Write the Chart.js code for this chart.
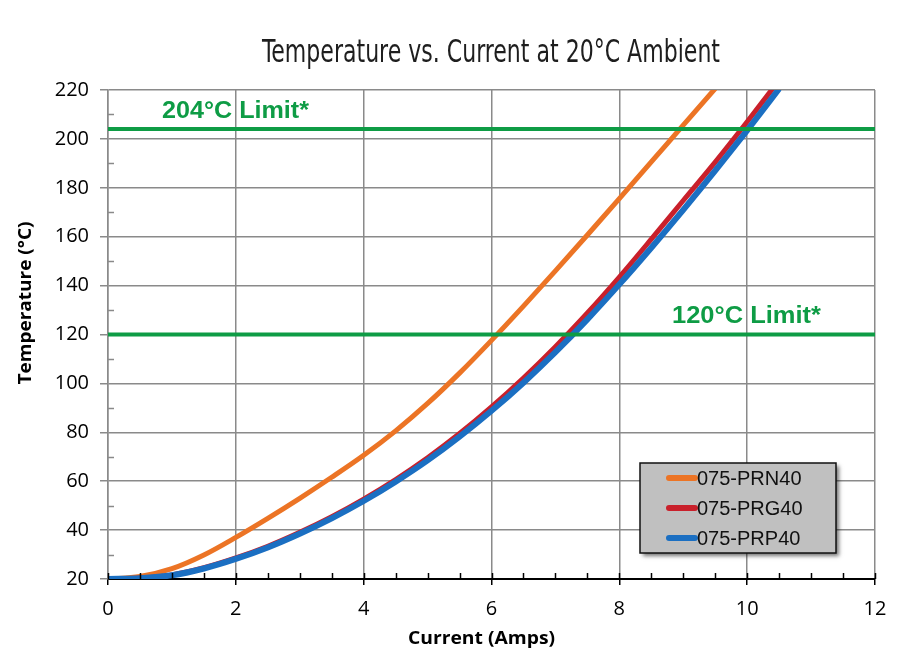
<!DOCTYPE html>
<html>
<head>
<meta charset="utf-8">
<script src="https://cdn.jsdelivr.net/npm/chart.js@4.4.1/dist/chart.umd.min.js"></script>
<style>
  html, body { margin: 0; padding: 0; background: #ffffff; }
  #wrap { width: 900px; height: 672px; }
</style>
</head>
<body>
<div id="wrap"><canvas id="c" width="900" height="672"></canvas></div>
<script>
// ---- data ----
const currentAmps = [0, 0.5, 1, 1.5, 2, 2.5, 3, 3.5, 4, 4.5, 5, 5.5, 6, 6.5, 7, 7.5, 8, 8.5, 9, 9.5, 10, 10.5];
const prn40 = [20, 21, 24.2, 29.8, 37, 44.8, 53, 61.6, 70.6, 80.6, 91.8, 104.2, 117.6, 131.6, 146, 160.7, 175.6, 190.6, 205.6, 220.6];
const prg40 = [20, 20.4, 21.7, 24.6, 28.6, 33.4, 39.1, 45.5, 52.7, 60.7, 69.6, 79.5, 90.4, 102.2, 115, 128.8, 143.5, 159, 174.8, 190.5, 207, 224];
const prp40 = [20, 20.3, 21.5, 24.3, 28.2, 32.9, 38.5, 44.8, 51.9, 59.8, 68.5, 78.2, 88.8, 100.3, 112.8, 126.2, 140.5, 155.5, 171, 187, 203.5, 220.5];
const seriesNames = ['075-PRN40', '075-PRG40', '075-PRP40'];
const limitValues = [204, 120];
const limitLabels = ['204°C Limit*', '120°C Limit*'];
const xTickValues = [0, 2, 4, 6, 8, 10, 12];
const yTickValues = [20, 40, 60, 80, 100, 120, 140, 160, 180, 200, 220];
const titleText = 'Temperature vs. Current at 20°C Ambient';
const xTitle = 'Current (Amps)';
const yTitle = 'Temperature (°C)';

const colors = ['#ec7425', '#c9202b', '#1b6fc2'];
const GREEN = '#0e9c45';

function pts(vals) { return vals.map((v, i) => ({ x: currentAmps[i], y: v })); }

const decor = {
  id: 'decor',
  afterDraw(chart) {
    const ctx = chart.ctx;
    const ca = chart.chartArea;
    const xs = chart.scales.x, ys = chart.scales.y;
    ctx.save();

    // minor ticks on y (inside, right of axis)
    ctx.strokeStyle = '#8a8a8a';
    ctx.lineWidth = 1.5;
    for (let v = 30; v < 220; v += 20) {
      const y = Math.round(ys.getPixelForValue(v)) + 0.5;
      ctx.beginPath(); ctx.moveTo(ca.left, y); ctx.lineTo(ca.left + 6, y); ctx.stroke();
    }
    // minor ticks on x (inside, above axis) + major upward extensions
    ctx.strokeStyle = '#000';
    ctx.lineWidth = 1.5;
    for (let v = 0; v <= 12; v += 0.5) {
      const x = Math.round(xs.getPixelForValue(v)) + 0.5;
      ctx.beginPath(); ctx.moveTo(x, ca.bottom); ctx.lineTo(x, ca.bottom - 6); ctx.stroke();
    }

    // limit lines
    ctx.strokeStyle = GREEN;
    ctx.lineWidth = 4;
    limitValues.forEach(v => {
      const y = ys.getPixelForValue(v);
      ctx.beginPath(); ctx.moveTo(ca.left, y); ctx.lineTo(ca.right, y); ctx.stroke();
    });
    // limit labels
    ctx.fillStyle = GREEN;
    ctx.font = 'bold 24px "Liberation Sans", Arial, sans-serif';
    ctx.textBaseline = 'alphabetic';
    const labelPos = [{ x: 162, w: 147 }, { x: 672, w: 149 }];
    limitLabels.forEach((t, i) => {
      const y = ys.getPixelForValue(limitValues[i]) - 11.5;
      const m = ctx.measureText(t).width;
      ctx.save();
      ctx.translate(labelPos[i].x, y);
      ctx.scale(labelPos[i].w / m, 1);
      ctx.fillText(t, 0, 0);
      ctx.restore();
    });

    // title
    ctx.fillStyle = '#1e1e1e';
    ctx.font = '32px "Liberation Sans Narrow", "DejaVu Sans Condensed", Arial, sans-serif';
    ctx.textAlign = 'left';
    let m = ctx.measureText(titleText).width;
    ctx.save();
    ctx.translate(262, 62);
    ctx.scale(458 / m, 1);
    ctx.fillText(titleText, 0, 0);
    ctx.restore();

    // axis titles
    ctx.fillStyle = '#000';
    ctx.font = 'bold 18px "Open Sans", sans-serif';
    ctx.textBaseline = 'middle';
    ctx.textAlign = 'center';
    m = ctx.measureText(xTitle).width;
    ctx.save();
    ctx.translate(481.5, 639);
    ctx.scale(147 / m, 1);
    ctx.fillText(xTitle, 0, 0);
    ctx.restore();
    m = ctx.measureText(yTitle).width;
    ctx.save();
    ctx.translate(26, 303);
    ctx.rotate(-Math.PI / 2);
    ctx.scale(163 / m, 1);
    ctx.fillText(yTitle, 0, 0);
    ctx.restore();

    // legend box
    const bx = 640, by = 463, bw = 196, bh = 90;
    ctx.save();
    ctx.shadowColor = 'rgba(0,0,0,0.55)';
    ctx.shadowBlur = 4;
    ctx.shadowOffsetX = 3;
    ctx.shadowOffsetY = 3;
    ctx.fillStyle = '#c0c0c0';
    ctx.fillRect(bx, by, bw, bh);
    ctx.restore();
    ctx.strokeStyle = '#111';
    ctx.lineWidth = 1.5;
    ctx.strokeRect(bx, by, bw, bh);
    ctx.font = '20px "Liberation Sans", Arial, sans-serif';
    ctx.textAlign = 'left';
    ctx.textBaseline = 'middle';
    seriesNames.forEach((n, i) => {
      const y = by + 15 + i * 30;
      ctx.strokeStyle = colors[i];
      ctx.lineWidth = 6;
      ctx.lineCap = 'round';
      ctx.beginPath(); ctx.moveTo(bx + 29, y); ctx.lineTo(bx + 55, y); ctx.stroke();
      ctx.fillStyle = '#111';
      ctx.fillText(n, bx + 57, y + 1);
    });
    ctx.restore();
  }
};

new Chart(document.getElementById('c'), {
  type: 'line',
  data: {
    datasets: [
      { label: seriesNames[0], data: pts(prn40), borderColor: colors[0], borderWidth: 5, order: 2 },
      { label: seriesNames[1], data: pts(prg40), borderColor: colors[1], borderWidth: 5, order: 1 },
      { label: seriesNames[2], data: pts(prp40), borderColor: colors[2], borderWidth: 6, order: 0 }
    ]
  },
  options: {
    responsive: false,
    animation: false,
    devicePixelRatio: 1,
    elements: {
      point: { radius: 0, hoverRadius: 0 },
      line: { cubicInterpolationMode: 'monotone', borderCapStyle: 'butt', fill: false }
    },
    layout: { padding: { top: 90, right: 25, left: 0, bottom: 0 } },
    plugins: { legend: { display: false }, title: { display: false }, tooltip: { enabled: false } },
    scales: {
      x: {
        type: 'linear', min: 0, max: 12,
        afterFit(s) { s.height = 93; },
        afterBuildTicks(s) { s.ticks = xTickValues.map(v => ({ value: v })); },
        ticks: { color: '#000', padding: 12, font: { family: '"Open Sans", sans-serif', size: 20 } },
        grid: { color: '#8a8a8a', lineWidth: 1.5, tickLength: 6, tickColor: '#000' },
        border: { color: '#000', width: 2 }
      },
      y: {
        type: 'linear', min: 20, max: 220,
        afterFit(s) { s.width = 108; },
        afterBuildTicks(s) { s.ticks = yTickValues.map(v => ({ value: v })); },
        ticks: { color: '#000', padding: 11, font: { family: '"Open Sans", sans-serif', size: 20 } },
        grid: { color: '#8a8a8a', lineWidth: 1.5, tickLength: 8, tickColor: '#8a8a8a' },
        border: { color: '#8a8a8a', width: 1.5 }
      }
    }
  },
  plugins: [decor]
});
</script>
</body>
</html>
